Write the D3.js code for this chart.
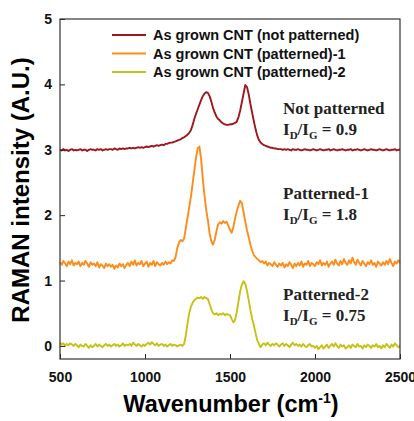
<!DOCTYPE html>
<html>
<head>
<meta charset="utf-8">
<script src="https://cdn.jsdelivr.net/npm/d3@7"></script>
<style>
  body { margin: 0; background: #fff; }
  text { font-family: "Liberation Sans", Arial, sans-serif; }
</style>
</head>
<body>
<div id="chart"></div>
<script>
const wavenumbers = d3.range(500, 2501, 10);

const notPatterned = [
  3.00, 2.99, 3.01, 2.99, 3.00, 2.98, 3.00, 3.01, 2.99, 3.00,
  2.99, 3.00, 3.01, 2.99, 3.00, 3.00, 2.98, 3.00, 3.01, 3.00,
  3.00, 2.99, 3.01, 3.00, 3.01, 2.99, 3.00, 3.01, 3.00, 3.01,
  3.01, 3.00, 3.02, 3.01, 3.00, 3.02, 3.01, 3.02, 3.01, 3.02,
  3.02, 3.03, 3.02, 3.03, 3.02, 3.03, 3.04, 3.03, 3.04, 3.03,
  3.04, 3.05, 3.04, 3.05, 3.06, 3.05, 3.06, 3.07, 3.06, 3.07,
  3.08, 3.07, 3.09, 3.09, 3.10, 3.11, 3.11, 3.12, 3.13, 3.14,
  3.15, 3.16, 3.18, 3.19, 3.21, 3.23, 3.26, 3.30, 3.38, 3.47,
  3.55, 3.62, 3.69, 3.76, 3.82, 3.86, 3.88, 3.87, 3.82, 3.74,
  3.64, 3.57, 3.51, 3.47, 3.45, 3.42, 3.40, 3.39, 3.38, 3.38,
  3.39, 3.39, 3.40, 3.41, 3.43, 3.50, 3.60, 3.73, 3.86, 3.99,
  3.96, 3.85, 3.70, 3.57, 3.44, 3.32, 3.22, 3.15, 3.11, 3.09,
  3.07, 3.06, 3.05, 3.04, 3.03, 3.03, 3.02, 3.02, 3.01, 3.01,
  3.01, 3.00, 3.01, 3.00, 3.01, 3.00, 2.99, 3.01, 3.00, 3.00,
  3.01, 3.00, 2.99, 3.00, 3.01, 3.00, 3.00, 2.99, 3.00, 3.01,
  3.00, 2.99, 3.00, 3.01, 3.00, 2.99, 3.00, 3.00, 3.01, 2.99,
  3.00, 3.01, 3.00, 2.99, 3.00, 3.00, 3.01, 3.00, 2.99, 3.00,
  3.00, 3.01, 2.99, 3.00, 3.00, 3.01, 3.00, 2.99, 3.00, 3.01,
  3.00, 2.99, 3.00, 3.01, 3.00, 3.00, 2.99, 3.00, 3.01, 3.00,
  2.99, 3.00, 3.01, 3.00, 2.99, 3.00, 3.00, 3.01, 2.99, 3.00,
  3.00
];

const patterned1 = [
  1.28, 1.24, 1.30, 1.26, 1.22, 1.29, 1.25, 1.31, 1.23, 1.27,
  1.25, 1.29, 1.22, 1.27, 1.24, 1.30, 1.26, 1.21, 1.28, 1.24,
  1.26, 1.22, 1.28, 1.20, 1.25, 1.23, 1.19, 1.26, 1.22, 1.25,
  1.21, 1.24, 1.18, 1.23, 1.20, 1.26, 1.22, 1.25, 1.19, 1.24,
  1.27, 1.22, 1.29, 1.24, 1.31, 1.23, 1.27, 1.25, 1.30, 1.22,
  1.26, 1.29, 1.21, 1.27, 1.24, 1.30, 1.22, 1.28, 1.25, 1.23,
  1.27, 1.24, 1.29, 1.25, 1.28, 1.26, 1.31, 1.30, 1.36, 1.50,
  1.58, 1.62, 1.60, 1.64, 1.80, 1.96, 2.12, 2.28, 2.48, 2.68,
  2.88, 3.02, 3.05, 2.86, 2.55, 2.30, 2.08, 1.92, 1.72, 1.60,
  1.55, 1.62, 1.75, 1.86, 1.89, 1.87, 1.91, 1.88, 1.90, 1.84,
  1.78, 1.73, 1.82, 1.95, 2.06, 2.15, 2.22, 2.18, 2.04, 1.90,
  1.77, 1.66, 1.55, 1.46, 1.39, 1.36, 1.33, 1.31, 1.28, 1.30,
  1.26, 1.29, 1.23, 1.27, 1.25, 1.22, 1.28, 1.24, 1.21, 1.26,
  1.23, 1.27, 1.20, 1.25, 1.22, 1.28, 1.24, 1.19, 1.26, 1.22,
  1.27, 1.23, 1.29, 1.21, 1.26, 1.24, 1.30, 1.22, 1.27, 1.25,
  1.22, 1.28, 1.25, 1.31, 1.23, 1.27, 1.24, 1.29, 1.21, 1.26,
  1.29, 1.24, 1.32, 1.26, 1.23, 1.30, 1.25, 1.33, 1.27, 1.24,
  1.31, 1.26, 1.35, 1.28, 1.24, 1.32, 1.27, 1.23, 1.30, 1.26,
  1.22, 1.28, 1.25, 1.31, 1.24, 1.27, 1.21, 1.29, 1.26, 1.23,
  1.28, 1.24, 1.30, 1.25, 1.33, 1.27, 1.22, 1.29, 1.26, 1.31,
  1.27
];

const patterned2 = [
  0.05, 0.02, 0.04, 0.00, 0.03, 0.01, 0.04, 0.02, 0.00, 0.03,
  0.01, -0.02, 0.02, 0.00, -0.01, 0.03, 0.00, -0.03, 0.01, -0.02,
  0.00, 0.03, -0.01, 0.02, 0.00, -0.02, 0.01, 0.03, 0.00, 0.02,
  -0.01, 0.01, 0.03, 0.00, 0.02, -0.01, 0.01, 0.04, 0.00, 0.02,
  0.01, 0.03, 0.00, 0.05, 0.02, 0.00, 0.03, 0.01, -0.01, 0.02,
  0.00, 0.03, 0.05, 0.02, 0.06, 0.03, 0.01, 0.04, 0.00, 0.02,
  0.03, 0.00, 0.02, -0.01, 0.01, 0.03, 0.00, 0.02, 0.01, -0.01,
  0.01, 0.02, 0.00, 0.03, 0.16, 0.34, 0.50, 0.60, 0.66, 0.70,
  0.72, 0.74, 0.73, 0.75, 0.72, 0.75, 0.73, 0.72, 0.64, 0.56,
  0.50, 0.48, 0.50, 0.47, 0.49, 0.48, 0.50, 0.47, 0.49, 0.48,
  0.47, 0.41, 0.36, 0.40, 0.52, 0.68, 0.84, 0.94, 0.99, 0.95,
  0.84, 0.70, 0.55, 0.42, 0.32, 0.20, 0.09, 0.03, -0.02, 0.02,
  0.04, 0.01, 0.05, 0.02, 0.00, 0.03, 0.01, 0.04, 0.02, -0.01,
  0.02, 0.04, 0.00, 0.03, 0.01, -0.02, 0.02, 0.05, 0.01, 0.03,
  0.00, 0.02, -0.01, 0.03, 0.00, -0.02, 0.01, 0.03, -0.01, 0.00,
  -0.03, 0.00, -0.05, -0.02, 0.01, -0.04, -0.01, 0.02, -0.03, 0.00,
  0.03, -0.01, 0.04, 0.00, -0.03, 0.02, -0.01, 0.01, -0.04, -0.02,
  0.01, -0.03, 0.02, 0.00, -0.02, 0.03, -0.01, 0.00, -0.04, 0.01,
  -0.02, 0.02, 0.00, -0.03, 0.01, -0.01, 0.03, -0.02, 0.00, -0.04,
  0.01, -0.02, 0.03, 0.00, -0.03, 0.02, -0.01, 0.04, 0.01, -0.02,
  0.00
];

const seriesNames = ["As grown CNT (not patterned)", "As grown CNT (patterned)-1", "As grown CNT (patterned)-2"];
const seriesColors = ["#a0161c", "#ff8c1a", "#c6c116"];
const xTicks = [500, 1000, 1500, 2000, 2500];
const yTicks = [0, 1, 2, 3, 4, 5];

const notes = [
  { title: "Not patterned", ratio: "0.9", y: 3.55 },
  { title: "Patterned-1", ratio: "1.8", y: 2.25 },
  { title: "Patterned-2", ratio: "0.75", y: 0.7 }
];

const width = 414, height = 421;
const margin = { top: 19, right: 14, bottom: 62, left: 60 };

const svg = d3.select("#chart").append("svg")
  .attr("width", width)
  .attr("height", height);

const x = d3.scaleLinear().domain([500, 2500]).range([margin.left, width - margin.right]);
const y = d3.scaleLinear().domain([-0.2, 5]).range([height - margin.bottom, margin.top]);

const series = [notPatterned, patterned1, patterned2];

const line = d3.line()
  .x((d, i) => x(wavenumbers[i]))
  .y(d => y(d));

svg.append("g").selectAll("path")
  .data(series)
  .join("path")
  .attr("fill", "none")
  .attr("stroke", (d, i) => seriesColors[i])
  .attr("stroke-width", 1.9)
  .attr("stroke-linejoin", "round")
  .attr("d", line);

// axes, ticks pointing inwards
const xAxis = svg.append("g")
  .attr("transform", `translate(0,${height - margin.bottom})`)
  .call(d3.axisBottom(x).tickValues(xTicks).tickSize(-5).tickPadding(13).tickFormat(d3.format("d")));
const yAxis = svg.append("g")
  .attr("transform", `translate(${margin.left},0)`)
  .call(d3.axisLeft(y).tickValues(yTicks).tickSize(-5).tickPadding(8).tickFormat(d3.format("d")));

[xAxis, yAxis].forEach(g => {
  g.select(".domain").remove();
  g.selectAll(".tick line").attr("stroke", "#222");
  g.selectAll(".tick text")
    .attr("fill", "#111")
    .style("font-size", "14px")
    .style("font-weight", "bold");
});

svg.append("rect")
  .attr("x", margin.left)
  .attr("y", margin.top)
  .attr("width", width - margin.left - margin.right)
  .attr("height", height - margin.top - margin.bottom)
  .attr("fill", "none")
  .attr("stroke", "#333")
  .attr("stroke-width", 1.2);

// axis titles
svg.append("text")
  .attr("transform", `translate(29,190) rotate(-90)`)
  .attr("text-anchor", "middle")
  .style("font-size", "24px")
  .style("font-weight", "bold")
  .text("RAMAN intensity (A.U.)");

const xt = svg.append("text")
  .attr("x", 231)
  .attr("y", 412)
  .attr("text-anchor", "middle")
  .style("font-size", "23.5px")
  .style("font-weight", "bold");
xt.append("tspan").text("Wavenumber (cm");
xt.append("tspan").attr("dy", -9).style("font-size", "14px").text("-1");
xt.append("tspan").attr("dy", 9).text(")");

// legend
const legend = svg.append("g");
seriesNames.forEach((name, i) => {
  const ly = 35 + i * 18.5;
  legend.append("line")
    .attr("x1", 112).attr("x2", 146)
    .attr("y1", ly).attr("y2", ly)
    .attr("stroke", seriesColors[i])
    .attr("stroke-width", 2.2);
  legend.append("text")
    .attr("x", 153)
    .attr("y", ly + 5)
    .style("font-size", "14.5px")
    .style("font-weight", "bold")
    .attr("fill", "#111")
    .text(name);
});

// annotations
notes.forEach(n => {
  const g = svg.append("g").attr("transform", `translate(283,${y(n.y)})`);
  g.append("text")
    .style("font-family", "'Liberation Serif', 'Times New Roman', serif")
    .style("font-size", "17px")
    .style("font-weight", "bold")
    .attr("fill", "#222")
    .text(n.title);
  const t = g.append("text")
    .attr("y", 21)
    .style("font-family", "'Liberation Serif', 'Times New Roman', serif")
    .style("font-size", "17px")
    .style("font-weight", "bold")
    .attr("fill", "#222");
  t.append("tspan").text("I");
  t.append("tspan").attr("dy", 4).style("font-size", "11px").text("D");
  t.append("tspan").attr("dy", -4).text("/I");
  t.append("tspan").attr("dy", 4).style("font-size", "11px").text("G");
  t.append("tspan").attr("dy", -4).text(" = " + n.ratio);
});
</script>
</body>
</html>
